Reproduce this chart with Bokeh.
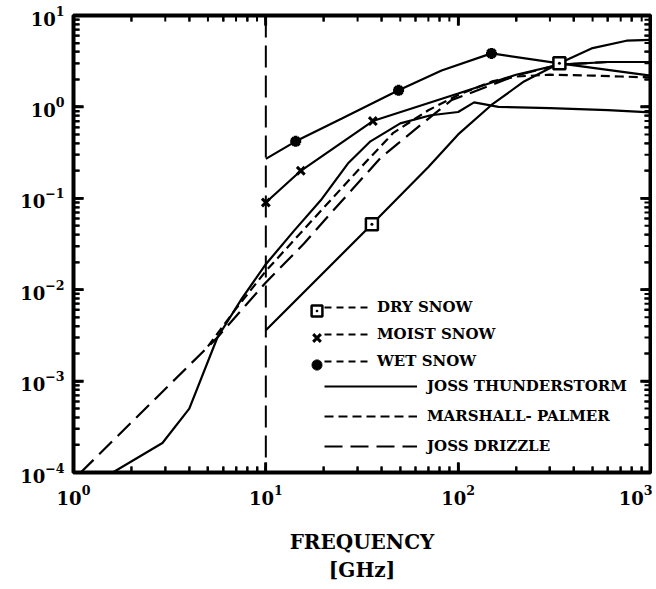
import numpy as np
from bokeh.plotting import figure
from bokeh.models import (LogAxis, LogTicker, CustomJSTickFormatter, Span, Legend,
                          LegendItem, Range1d)
from bokeh.embed import file_html
from bokeh.resources import INLINE

# ---------------- data (frequency in GHz, normalized value) ----------------
thunder_f = [1.6, 2.9, 4.0, 5.6, 7.5, 10, 14, 19.3, 26.7, 35, 50, 72, 100, 121, 162, 300, 600, 1000]
thunder_v = [1e-4, 2.1e-4, 5e-4, 3.0e-3, 8e-3, 0.019, 0.044, 0.095, 0.24, 0.42, 0.66, 0.81, 0.88, 1.12, 1.0, 0.97, 0.92, 0.87]

mp_f = [5, 7, 10, 18, 30, 46, 70, 100, 150, 200, 300, 500, 700, 1000]
mp_v = [0.0024, 0.0062, 0.016, 0.062, 0.2, 0.52, 0.92, 1.35, 1.9, 2.15, 2.25, 2.2, 2.15, 2.1]

drizzle_f = [1.09, 5.6, 10, 15.8, 21.8, 39.7, 60, 92, 150, 200, 336, 600, 1000]
drizzle_v = [1e-4, 0.003, 0.012, 0.032, 0.069, 0.28, 0.57, 1.18, 1.75, 2.2, 2.9, 3.1, 3.1]

dry_f = [10, 35.6, 70, 100, 149, 220, 336, 500, 750, 1000]
dry_v = [0.0036, 0.052, 0.22, 0.5, 1.05, 1.9, 3.0, 4.4, 5.3, 5.4]
dry_mark_f = [35.6, 336]
dry_mark_v = [0.052, 3.0]

moist_f = [10, 15.2, 36, 60, 100, 200, 336, 600, 1000]
moist_v = [0.09, 0.2, 0.7, 0.99, 1.4, 2.25, 2.9, 3.1, 3.1]
moist_mark_f = [10, 15.2, 36]
moist_mark_v = [0.09, 0.2, 0.7]

wet_f = [10, 14.3, 25, 49, 82, 149, 336, 1000]
wet_v = [0.27, 0.42, 0.75, 1.52, 2.5, 3.85, 3.0, 2.2]
wet_mark_f = [14.3, 49, 149]
wet_mark_v = [0.42, 1.52, 3.85]

snow_labels = ["DRY SNOW", "MOIST SNOW", "WET SNOW"]
rain_labels = ["JOSS THUNDERSTORM", "MARSHALL- PALMER", "JOSS DRIZZLE"]
x_label = "FREQUENCY\n[GHz]"
cutoff_freq = 10
# off-scale key positions, used only to give the legend dash keys a glyph
key_f = [1e-3, 2e-3]
key_v = [1e-6, 2e-6]

# axis tick positions (for the inward tick marks on all four sides)
x_min, x_max = 1, 1000
y_min, y_max = 1e-4, 10
x_major = [1, 10, 100, 1000]
x_minor = [m * 10 ** k for k in range(0, 3) for m in range(2, 10)]
y_major = [1e-4, 1e-3, 1e-2, 1e-1, 1, 10]
y_minor = [m * 10.0 ** k for k in range(-4, 1) for m in range(2, 10)]

FONT = "DejaVu Serif"

p = figure(width=652, height=585, x_axis_type="log", y_axis_type="log",
           x_range=Range1d(x_min, x_max), y_range=Range1d(y_min, y_max),
           output_backend="svg", toolbar_location=None,
           min_border_left=73, min_border_top=15, min_border_right=2,
           min_border_bottom=112)
p.xgrid.visible = False
p.ygrid.visible = False
p.outline_line_color = "black"
p.outline_line_width = 4

blank = CustomJSTickFormatter(code="return '';")


def style_axis(ax):
    ax.axis_line_width = 3
    ax.axis_line_color = "black"
    ax.axis_line_dash = "1000 1"
    ax.major_tick_in = 10
    ax.major_tick_out = 0
    ax.minor_tick_in = 6
    ax.minor_tick_out = 0
    ax.major_tick_line_width = 2.5
    ax.minor_tick_line_width = 2
    ax.major_tick_line_color = "black"
    ax.minor_tick_line_color = "black"
    ax.major_tick_line_dash = "100 1"
    ax.minor_tick_line_dash = "100 1"
    ax.major_label_text_font = FONT
    ax.major_label_text_font_style = "bold"
    ax.major_label_text_font_size = "18px"
    ax.major_label_text_color = "black"


xa = p.below[0]
ya = p.left[0]
style_axis(xa)
style_axis(ya)
xa.major_label_standoff = 12
ya.major_label_standoff = 9
xa.axis_label = x_label
xa.axis_label_text_font = FONT
xa.axis_label_text_font_style = "bold"
xa.axis_label_text_font_size = "20px"
xa.axis_label_text_color = "black"
xa.axis_label_standoff = 22

top_ax = LogAxis(ticker=LogTicker(), formatter=blank, major_label_standoff=0)
right_ax = LogAxis(ticker=LogTicker(), formatter=blank, major_label_standoff=0)
style_axis(top_ax)
style_axis(right_ax)
p.add_layout(top_ax, "above")
p.add_layout(right_ax, "right")

# inward tick marks drawn as screen-length rays from each frame edge
for ticks, ln, lw in ((x_major, 10, 2.5), (x_minor, 6, 2)):
    p.ray(x=ticks, y=y_min, length=ln, length_units="screen", angle=np.pi / 2,
          line_color="black", line_width=lw)
    p.ray(x=ticks, y=y_max, length=ln, length_units="screen", angle=-np.pi / 2,
          line_color="black", line_width=lw)
for ticks, ln, lw in ((y_major, 10, 2.5), (y_minor, 6, 2)):
    p.ray(x=x_min, y=ticks, length=ln, length_units="screen", angle=0,
          line_color="black", line_width=lw)
    p.ray(x=x_max, y=ticks, length=ln, length_units="screen", angle=np.pi,
          line_color="black", line_width=lw)

p.add_layout(Span(location=cutoff_freq, dimension="height", line_color="black",
                  line_width=2, line_dash="22 8"))

LW = 2.2
r_thunder = p.line(thunder_f, thunder_v, line_color="black", line_width=LW)
r_mp = p.line(mp_f, mp_v, line_color="black", line_width=LW, line_dash="9 5")
r_drizzle = p.line(drizzle_f, drizzle_v, line_color="black", line_width=LW, line_dash="18 8")

p.line(dry_f, dry_v, line_color="black", line_width=LW)
p.line(moist_f, moist_v, line_color="black", line_width=LW)
p.line(wet_f, wet_v, line_color="black", line_width=LW)

m_dry = p.scatter(dry_mark_f, dry_mark_v, marker="square_dot", size=12, line_width=2.5,
                  line_color="black", fill_color="white")
m_moist = p.scatter(moist_mark_f, moist_mark_v, marker="x", size=11, line_width=3,
                    line_color="black")
m_wet = p.scatter(wet_mark_f, wet_mark_v, marker="asterisk", size=11, line_width=3.5,
                  line_color="black")

# legend key dashes for the snow entries
snow_keys = [p.line(key_f, key_v, line_color="black", line_width=2, line_dash="7 5")
             for _ in snow_labels]

common = dict(padding=0, margin=0, border_line_alpha=0, background_fill_alpha=0,
              label_text_font=FONT, label_text_font_style="bold",
              label_text_font_size="15px", label_text_color="black")

leg_marks = Legend(items=[LegendItem(label=" ", renderers=[r]) for r in (m_dry, m_moist, m_wet)],
                   location=(230, 94), glyph_width=27, glyph_height=27, label_height=27,
                   label_standoff=0, spacing=0, **common)
leg_snow = Legend(items=[LegendItem(label=l, renderers=[r]) for l, r in zip(snow_labels, snow_keys)],
                  location=(251, 101), glyph_width=47, glyph_height=20, label_height=20,
                  label_standoff=6, spacing=7, **common)
leg_rain = Legend(items=[LegendItem(label=l, renderers=[r]) for l, r in
                         zip(rain_labels, (r_thunder, r_mp, r_drizzle))],
                  location=(251, 16), glyph_width=93, glyph_height=20, label_height=20,
                  label_standoff=10, spacing=10, **common)
for lg in (leg_marks, leg_snow, leg_rain):
    p.add_layout(lg)

open("out.html", "w").write(file_html(p, INLINE))
